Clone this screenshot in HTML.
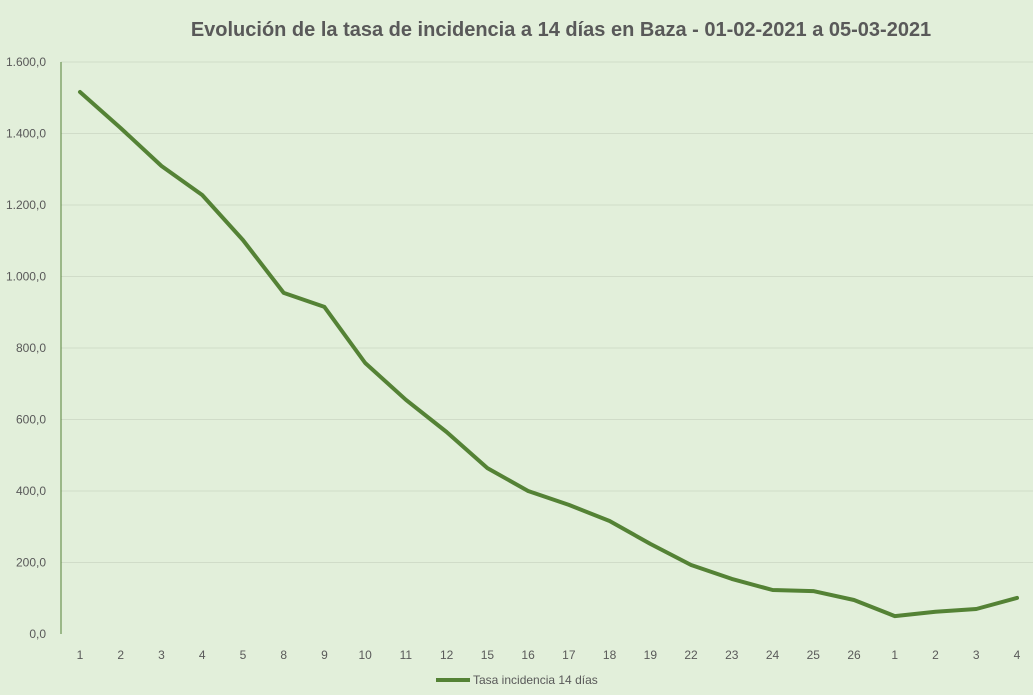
<!DOCTYPE html>
<html><head><meta charset="utf-8"><style>
body{margin:0;background:#e2efda;}
svg{display:block;font-family:"Liberation Sans",sans-serif;}
</style></head><body>
<svg id="chart" width="1033" height="695">
<rect width="1033" height="695" fill="#e2efda"/>
<text x="561" y="36" text-anchor="middle" font-size="20" font-weight="bold" fill="#595959">Evolución de la tasa de incidencia a 14 días en Baza - 01-02-2021 a 05-03-2021</text>
<g id="grid"></g><g id="yt"></g><g id="xt"></g><g id="series"></g>
<g>
<line x1="436" y1="680" x2="470" y2="680" stroke="#548235" stroke-width="4"/>
<text x="473" y="684" font-size="12" fill="#595959">Tasa incidencia 14 días</text>
</g>
</svg>
<script>
const categories=["1","2","3","4","5","8","9","10","11","12","15","16","17","18","19","22","23","24","25","26","1","2","3","4"];
const values=[1516,1415,1309,1228,1102,954,915,758,655,565,464,400,361,316,252,193,154,123,120,95,50,62,70,101];
const yTicks=[0,200,400,600,800,1000,1200,1400,1600];
const yTickLabels=["0,0","200,0","400,0","600,0","800,0","1.000,0","1.200,0","1.400,0","1.600,0"];
const NS="http://www.w3.org/2000/svg";
const yTop=62,yBot=634,yMax=1600,x0=59.6,step=40.74;
function y(v){return yBot-(v/yMax)*(yBot-yTop);}
function x(i){return x0+step*(i+0.5);}
function mk(t,a,p){const e=document.createElementNS(NS,t);for(const k in a)e.setAttribute(k,a[k]);p.appendChild(e);return e;}
const grid=document.getElementById('grid'),yt=document.getElementById('yt'),xt=document.getElementById('xt'),ser=document.getElementById('series');
yTicks.forEach((v,i)=>{
 if(v>0){const l=mk('line',{x1:61,x2:1033,y1:y(v),y2:y(v),stroke:'#d0dcc8','stroke-width':1},grid);
 
 }
 const t=mk('text',{x:46,y:y(v)+4,'text-anchor':'end','font-size':12,fill:'#595959'},yt);
 t.textContent=yTickLabels[i];
 
 
});
const ax=mk('line',{x1:61,x2:61,y1:yTop,y2:yBot,stroke:'#548235','stroke-width':1},grid);


categories.forEach((c,i)=>{
 const t=mk('text',{x:x(i),y:659,'text-anchor':'middle','font-size':12,fill:'#595959'},xt);
 t.textContent=c;
 
 
});
const pts=values.map((v,i)=>x(i).toFixed(1)+','+y(v).toFixed(1)).join(' ');
const pl=mk('polyline',{points:pts,fill:'none',stroke:'#548235','stroke-width':4,'stroke-linejoin':'round','stroke-linecap':'round'},ser);


</script>
</body></html>
